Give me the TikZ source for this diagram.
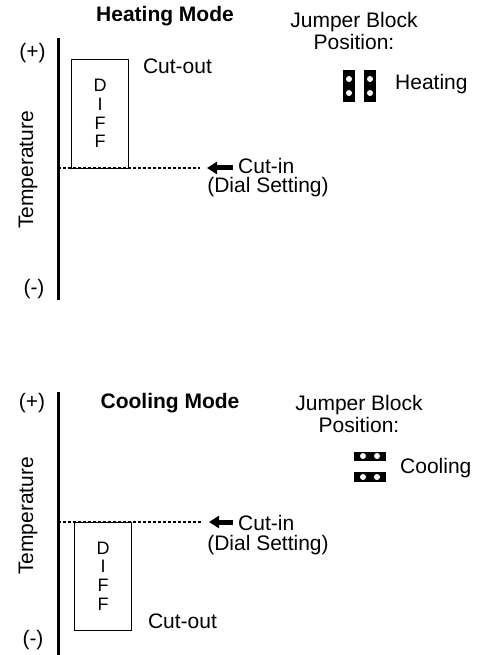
\documentclass[tikz,border=0pt]{standalone}
\usepackage{fontspec}
\setmainfont{Liberation Sans}
\usetikzlibrary{arrows.meta}
\begin{document}
\begin{tikzpicture}[x=1pt,y=-1pt,
  axisline/.style={line width=3pt},
  dotline/.style={line width=2pt,dash pattern=on 3pt off 2pt},
  setarrow/.style={line width=5pt,-{Triangle[length=10pt,width=12pt]}},
  diffbox/.style={draw,line width=0.8pt,minimum width=57pt,inner sep=0pt,align=center,
    font=\fontsize{18}{18.7}\selectfont},
  txt/.style={inner sep=0pt,font=\fontsize{21}{24}\selectfont},
  bar/.style={fill=black,inner sep=0pt},
  pin/.style={fill=white,circle,inner sep=0pt,minimum size=6pt}]
  \useasboundingbox (0,0) rectangle (477,655);
  % heating mode
  \coordinate (htop) at (58,38);
  \coordinate (hbot) at (58,300);
  \draw[axisline] (htop) -- (hbot);
  \node[txt] (hplus) at (32.5,53) {(+)};
  \node[txt] (hminus) at (34,289) {(-)};
  \node[txt,rotate=90,anchor=base] (htemp) at (33,170) {Temperature};
  \node[txt,anchor=base,font=\fontsize{21}{24}\selectfont\bfseries] (hmode) at (165,22) {Heating Mode};
  \node[diffbox,minimum height=109pt] (hdiff) at (100,113.5) {D\\I\\F\\F};
  \node[txt,anchor=base] (hout) at (177.5,74) {Cut-out};
  \coordinate (hlevel) at (58,168);
  \coordinate (hdotend) at (200,168);
  \draw[dotline] (hlevel) -- (hdotend);
  \coordinate (harrow) at (233,168);
  \coordinate (htip) at (207,168);
  \draw[setarrow] (harrow) -- (htip);
  \node[txt,anchor=base west] (hin) at (238,173) {Cut-in};
  \node[txt,anchor=base] (hdial) at (268,193) {(Dial Setting)};
  \node[txt,anchor=base] (hjump) at (354,28) {Jumper Block};
  \node[txt,anchor=base] (hpos) at (354,50) {Position:};
  \node[txt,anchor=base west] (hheat) at (395,90) {Heating};
  \node[bar,minimum width=12pt,minimum height=32pt] (hbarA) at (349,86) {};
  \node[bar,minimum width=12pt,minimum height=32pt] (hbarB) at (370,86) {};
  \foreach \x in {349,370}
    \foreach \y in {79,93}
      \node[pin] at (\x,\y) {};
  % cooling mode
  \coordinate (ctop) at (58,392);
  \coordinate (cbot) at (58,655);
  \draw[axisline] (ctop) -- (cbot);
  \node[txt] (cplus) at (32,403) {(+)};
  \node[txt] (cminus) at (33,640) {(-)};
  \node[txt,rotate=90,anchor=base] (ctemp) at (33,516) {Temperature};
  \node[txt,anchor=base,font=\fontsize{21}{24}\selectfont\bfseries] (cmode) at (170,408) {Cooling Mode};
  \node[diffbox,minimum height=108pt] (cdiff) at (103,576) {D\\I\\F\\F};
  \node[txt,anchor=base] (cout) at (182.5,628) {Cut-out};
  \coordinate (clevel) at (58,522);
  \coordinate (cdotend) at (202,522);
  \draw[dotline] (clevel) -- (cdotend);
  \coordinate (carrow) at (233,522);
  \coordinate (ctip) at (209,522);
  \draw[setarrow] (carrow) -- (ctip);
  \node[txt,anchor=base west] (cin) at (238,530) {Cut-in};
  \node[txt,anchor=base] (cdial) at (268,550) {(Dial Setting)};
  \node[txt,anchor=base] (cjump) at (359,410) {Jumper Block};
  \node[txt,anchor=base] (cpos) at (359,432) {Position:};
  \node[txt,anchor=base west] (ccool) at (400,473) {Cooling};
  \node[bar,minimum width=32pt,minimum height=9pt] (cbarA) at (370,456) {};
  \node[bar,minimum width=32pt,minimum height=10pt] (cbarB) at (370,477) {};
  \foreach \x in {363,377}
    \foreach \y in {456,477}
      \node[pin] at (\x,\y) {};
\end{tikzpicture}
\end{document}
